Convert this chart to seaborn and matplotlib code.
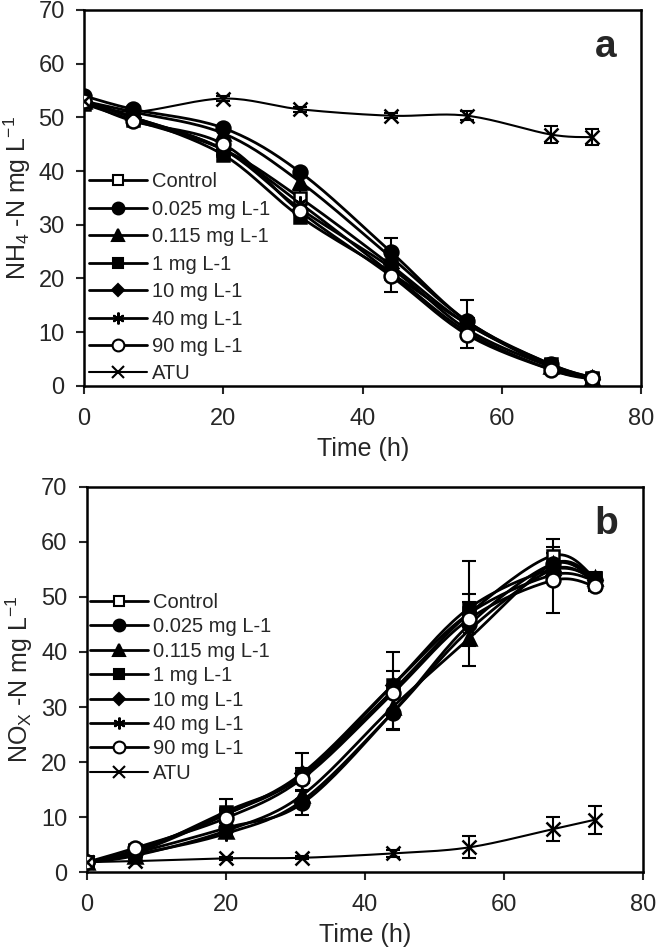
import numpy as np
import pandas as pd
import matplotlib
matplotlib.use("Agg")
import matplotlib.pyplot as plt
from matplotlib.lines import Line2D
import seaborn as sns

time_h = [0, 7, 20, 31, 44, 55, 67, 73]
series_names = ["Control", "0.025 mg L-1", "0.115 mg L-1", "1 mg L-1",
                "10 mg L-1", "40 mg L-1", "90 mg L-1", "ATU"]

# Panel a: NH4-N
nh4_control = [52.5, 49.5, 44.0, 35.0, 22.5, 11.5, 4.0, 1.5]
nh4_0025 = [54.0, 51.5, 48.0, 39.8, 25.0, 12.0, 4.0, 1.5]
nh4_0115 = [53.0, 51.0, 47.0, 38.0, 24.0, 12.0, 3.6, 1.5]
nh4_1 = [53.0, 50.0, 43.0, 31.5, 21.0, 11.5, 3.5, 1.3]
nh4_10 = [53.0, 50.0, 44.0, 33.0, 22.0, 10.5, 3.5, 1.2]
nh4_40 = [53.0, 50.0, 44.0, 34.0, 21.0, 10.0, 3.0, 1.2]
nh4_90 = [53.0, 49.3, 45.0, 32.5, 20.5, 9.5, 3.0, 1.4]
nh4_atu = [53.0, 51.0, 53.5, 51.5, 50.3, 50.3, 46.8, 46.3]
nh4_control_err = [0.5, 0.5, 1.0, 1.5, 5.0, 4.5, 1.0, 0.5]
nh4_atu_err = [0.3, 0.3, 0.5, 0.5, 0.5, 0.8, 1.6, 1.5]

# Panel b: NOx-N
nox_control = [1.8, 4.0, 10.5, 17.5, 33.0, 47.0, 57.5, 53.5]
nox_0025 = [1.8, 3.5, 8.0, 12.5, 29.0, 45.0, 56.0, 53.0]
nox_0115 = [1.8, 3.0, 7.5, 14.0, 30.0, 42.5, 56.0, 53.5]
nox_1 = [1.8, 3.5, 11.0, 17.5, 34.0, 48.0, 55.0, 53.5]
nox_10 = [1.8, 3.5, 10.5, 18.0, 34.0, 47.0, 54.0, 53.0]
nox_40 = [1.8, 3.2, 7.0, 13.0, 29.0, 44.0, 55.0, 53.0]
nox_90 = [1.8, 4.4, 9.8, 17.0, 32.5, 46.0, 53.0, 52.0]
nox_atu = [1.8, 2.0, 2.5, 2.6, 3.4, 4.5, 7.8, 9.5]
nox_control_err = [0.3, 0.5, 2.8, 4.2, 7.0, 9.5, 3.0, 1.0]
nox_90_err = [0.3, 0.5, 1.5, 2.0, 4.0, 4.5, 6.0, 1.0]
nox_0025_err = [0.3, 0.5, 1.0, 2.2, 3.2, 4.0, 2.0, 1.0]
nox_atu_err = [0.3, 0.3, 0.3, 0.3, 0.6, 2.0, 2.2, 2.6]

styles = {
    "Control": dict(marker="s", mfc="white", ms=9, lw=2.0),
    "0.025 mg L-1": dict(marker="o", mfc="black", ms=10, lw=2.0),
    "0.115 mg L-1": dict(marker="^", mfc="black", ms=10, lw=2.0),
    "1 mg L-1": dict(marker="s", mfc="black", ms=9, lw=2.0),
    "10 mg L-1": dict(marker="D", mfc="black", ms=7, lw=2.0),
    "40 mg L-1": dict(marker=(6, 2, 0), mfc="black", ms=10, lw=2.0),
    "90 mg L-1": dict(marker="o", mfc="white", ms=10, lw=2.0),
    "ATU": dict(marker="x", mfc="black", ms=10, lw=1.5),
}


def smooth(x, y, n=20):
    # Excel-style smoothed line (cubic Bezier through data points)
    x = np.asarray(x, float)
    y = np.asarray(y, float)
    P = np.column_stack([x, y])
    out = [P[0]]
    for i in range(len(P) - 1):
        p0 = P[i - 1] if i > 0 else P[i]
        p1 = P[i]
        p2 = P[i + 1]
        p3 = P[i + 2] if i + 2 < len(P) else P[i + 1]
        c1 = p1 + (p2 - p0) / 6.0
        c2 = p2 - (p3 - p1) / 6.0
        t = np.linspace(0, 1, n)[1:, None]
        b = ((1 - t) ** 3) * p1 + 3 * ((1 - t) ** 2) * t * c1 + 3 * (1 - t) * t ** 2 * c2 + t ** 3 * p2
        out.extend(b)
    out = np.array(out)
    return out[:, 0], out[:, 1]


sns.set_style("ticks")
plt.rcParams["font.family"] = ["Liberation Sans", "DejaVu Sans"]
plt.rcParams["mathtext.fontset"] = "custom"
plt.rcParams["mathtext.rm"] = "Liberation Sans"

fig = plt.figure(figsize=(6.57, 9.5), dpi=100)
ax_a = fig.add_axes([0.128, 0.594, 0.848, 0.3955])
ax_b = fig.add_axes([0.132, 0.082, 0.847, 0.4055])


def draw(ax, data, errs, ylabel, letter, legend_anchor, labelspacing):
    for name, vals in zip(series_names, data):
        xs, ys = smooth(time_h, vals)
        st = styles[name]
        df = pd.DataFrame({"x": xs, "y": ys})
        sns.lineplot(data=df, x="x", y="y", ax=ax, color="black",
                     lw=st["lw"], sort=False, estimator=None, zorder=2)
    for name, vals in zip(series_names, data):
        st = styles[name]
        e = errs.get(name)
        if e is not None:
            ax.errorbar(time_h, vals, yerr=e, fmt="none", ecolor="black",
                        elinewidth=1.5, capsize=5, capthick=1.5, zorder=3)
        ax.plot(time_h, vals, ls="none", marker=st["marker"], ms=st["ms"],
                mfc=st["mfc"], mec="black", mew=1.8, zorder=4)
    ax.set_xlim(0, 80)
    ax.set_ylim(0, 70)
    ax.set_xticks([0, 20, 40, 60, 80])
    ax.set_yticks(range(0, 71, 10))
    ax.tick_params(direction="out", length=6, width=1.5, labelsize=17)
    ax.tick_params(axis="x", pad=10)
    ax.tick_params(axis="y", pad=8)
    for s in ax.spines.values():
        s.set_linewidth(1.8)
        s.set_color("black")
    ax.set_xlabel("Time (h)", fontsize=18, labelpad=5)
    ax.set_ylabel(ylabel, fontsize=18, labelpad=4)
    ax.text(0.955, 0.95, letter, transform=ax.transAxes, ha="right", va="top",
            fontsize=28, fontweight="bold")
    handles = []
    for name in series_names:
        st = styles[name]
        handles.append(Line2D([], [], color="black", lw=st["lw"], marker=st["marker"],
                              ms=st["ms"] * 0.85, mfc=st["mfc"], mec="black", mew=1.5))
    ax.legend(handles, series_names, loc="upper left", bbox_to_anchor=legend_anchor,
              frameon=False, fontsize=14.5, handlelength=2.9, handletextpad=0.25,
              labelspacing=labelspacing, borderaxespad=0, borderpad=0)


draw(ax_a, [nh4_control, nh4_0025, nh4_0115, nh4_1, nh4_10, nh4_40, nh4_90, nh4_atu],
     {"Control": nh4_control_err, "ATU": nh4_atu_err},
     r"NH$\mathregular{_4}$ -N mg L$\mathregular{^{-1}}$", "a", (0.008, 0.568), 0.42)
draw(ax_b, [nox_control, nox_0025, nox_0115, nox_1, nox_10, nox_40, nox_90, nox_atu],
     {"Control": nox_control_err, "90 mg L-1": nox_90_err, "0.025 mg L-1": nox_0025_err,
      "ATU": nox_atu_err},
     r"NO$\mathregular{_X}$ -N mg L$\mathregular{^{-1}}$", "b", (0.005, 0.725), 0.27)

fig.savefig("out.png", dpi=100)
